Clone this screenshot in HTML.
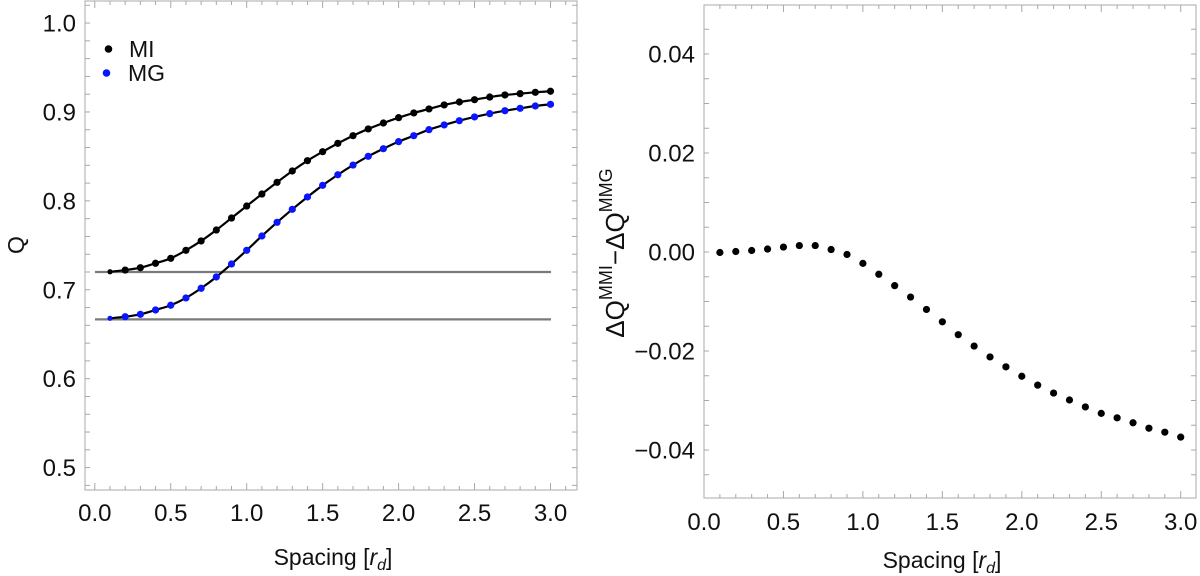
<!DOCTYPE html>
<html><head><meta charset="utf-8">
<style>
html,body{margin:0;padding:0;background:#fff;}
svg{display:block;font-family:"Liberation Sans",sans-serif;}
</style></head>
<body>
<svg id="chart" width="1200" height="576" viewBox="0 0 1200 576" xmlns="http://www.w3.org/2000/svg">
<g id="left"></g>
<g id="right"></g>
</svg>
<script>
const spacing = [0.1,0.2,0.3,0.4,0.5,0.6,0.7,0.8,0.9,1.0,1.1,1.2,1.3,1.4,1.5,1.6,1.7,1.8,1.9,2.0,2.1,2.2,2.3,2.4,2.5,2.6,2.7,2.8,2.9,3.0];
const miValues = [0.7203,0.7222,0.7248,0.7298,0.7354,0.7444,0.7549,0.7672,0.7807,0.7942,0.8077,0.8209,0.8336,0.8452,0.8553,0.8647,0.8733,0.8809,0.8876,0.8936,0.8989,0.9034,0.9079,0.9112,0.9138,0.9168,0.9191,0.9206,0.9221,0.9233];
const mgValues = [0.6679,0.6697,0.6724,0.6773,0.6826,0.6908,0.7017,0.7144,0.7290,0.7444,0.7605,0.7759,0.7905,0.8044,0.8175,0.8294,0.8403,0.8501,0.8587,0.8666,0.8733,0.8801,0.8854,0.8902,0.8944,0.8981,0.9014,0.9041,0.9067,0.9086];
const refLines = [0.72, 0.6667];
const diffValues = [-0.0001,0.0001,0.0003,0.0006,0.0010,0.0013,0.0013,0.0005,-0.0005,-0.0023,-0.0045,-0.0068,-0.0091,-0.0116,-0.0141,-0.0167,-0.0190,-0.0212,-0.0232,-0.0251,-0.0269,-0.0285,-0.0299,-0.0313,-0.0326,-0.0335,-0.0345,-0.0356,-0.0364,-0.0374];
const leftXTicks = ["0.0","0.5","1.0","1.5","2.0","2.5","3.0"];
const leftYTicks = ["0.5","0.6","0.7","0.8","0.9","1.0"];
const rightXTicks = ["0.0","0.5","1.0","1.5","2.0","2.5","3.0"];
const rightYTicks = ["-0.04","-0.02","0.00","0.02","0.04"];

const NS="http://www.w3.org/2000/svg";
function mk(parent,tag,attrs,text){const e=document.createElementNS(NS,tag);for(const k in attrs)e.setAttribute(k,attrs[k]);if(text!==undefined)e.textContent=text;parent.appendChild(e);return e;}
function lin(d0,d1,r0,r1){return v=>r0+(v-d0)*(r1-r0)/(d1-d0);}
function smoothPath(pts){let d="M"+pts[0][0]+","+pts[0][1];for(let i=0;i<pts.length-1;i++){const p0=pts[Math.max(i-1,0)],p1=pts[i],p2=pts[i+1],p3=pts[Math.min(i+2,pts.length-1)];d+=" C"+(p1[0]+(p2[0]-p0[0])/6)+","+(p1[1]+(p2[1]-p0[1])/6)+" "+(p2[0]-(p3[0]-p1[0])/6)+","+(p2[1]-(p3[1]-p1[1])/6)+" "+p2[0]+","+p2[1];}return d;}

function frame(g,x0,y0,x1,y1,xs,ys,xMinor,yMinor,xDom,yDom){
  const f=mk(g,"rect",{x:x0,y:y0,width:x1-x0,height:y1-y0,fill:"none",stroke:"#a8a8a8","stroke-width":1});
  
  
  for(let v=Math.ceil(xDom[0]/xMinor-1e-9)*xMinor; v<=xDom[1]+1e-9; v+=xMinor){
    const X=xs(v); const major=Math.abs(v*2-Math.round(v*2))<1e-6;
    const L=major?7:4;
    mk(g,"line",{x1:X,x2:X,y1:y1,y2:y1-L,stroke:"#a8a8a8"});
    mk(g,"line",{x1:X,x2:X,y1:y0,y2:y0+L,stroke:"#a8a8a8"});
  }
  for(let i=Math.ceil(yDom[0]/yMinor-1e-9); i*yMinor<=yDom[1]+1e-9; i++){
    const v=i*yMinor; const Y=ys(v);
    mk(g,"line",{x1:x0,x2:x0+5,y1:Y,y2:Y,stroke:"#a8a8a8"});
    mk(g,"line",{x1:x1,x2:x1-5,y1:Y,y2:Y,stroke:"#a8a8a8"});
  }
}

// LEFT PANEL
(function(){
  const g=document.getElementById("left");
  const x0=85,x1=577,y0=1,y1=490;
  const xs=lin(0,3,94.8,550.5);
  const ys=lin(0.72,0.5,272,467.6);
  frame(g,x0,y0,x1,y1,xs,ys,0.1,0.02,[-0.06,3.15],[0.48,1.02]);
  leftXTicks.forEach(t=>{const e=mk(g,"text",{x:xs(parseFloat(t)),y:521,"font-size":24,"text-anchor":"middle",fill:"#111"},t);
    
    });
  leftYTicks.forEach(t=>{const e=mk(g,"text",{x:76,y:ys(parseFloat(t))+8.5,"font-size":24,"text-anchor":"end",fill:"#111"},t);
    
    });
  refLines.forEach(v=>{const l=mk(g,"line",{x1:95,x2:551,y1:ys(v),y2:ys(v),stroke:"#7a7a7a","stroke-width":2.2});
    
    });
  [[miValues,"#000","mi"],[mgValues,"#0a14ff","mg"]].forEach(([vals,col,nm])=>{
    const pts=spacing.map((s,i)=>[xs(s),ys(vals[i])]);
    const p=mk(g,"path",{d:smoothPath(pts),fill:"none",stroke:"#000","stroke-width":2.2});
    
    
    pts.forEach((q,i)=>{const c=mk(g,"circle",{cx:q[0],cy:q[1],r:i===0?2.6:3.6,fill:col});
      
      });
  });
  const lg=mk(g,"g",{});
  
  
  const l1=mk(lg,"circle",{cx:108.5,cy:49,r:3.8,fill:"#000"});
  
  
  const t1=mk(lg,"text",{x:129,y:57,"font-size":23,fill:"#111"},"MI");
  
  
  const l2=mk(lg,"circle",{cx:106.5,cy:73,r:3.8,fill:"#0a14ff"});
  
  
  const t2=mk(lg,"text",{x:128,y:81,"font-size":23,fill:"#111"},"MG");
  
  
  const yt=mk(g,"text",{x:0,y:0,"font-size":23,"text-anchor":"middle",transform:"translate(24,245) rotate(-90)",fill:"#111"},"Q");
  
  
  const xt=mk(g,"text",{x:333,y:565,"font-size":23,"text-anchor":"middle",fill:"#111"});
  
  
  mk(xt,"tspan",{},"Spacing [");
  mk(xt,"tspan",{"font-style":"italic"},"r");
  mk(xt,"tspan",{"font-style":"italic","font-size":16,dy:5},"d");
  mk(xt,"tspan",{dy:-5},"]");
})();

// RIGHT PANEL
(function(){
  const g=document.getElementById("right");
  const x0=704,x1=1196,y0=5,y1=498;
  const xs=lin(0,3,704,1180.7);
  const ys=lin(0,0.02,252,153);
  frame(g,x0,y0,x1,y1,xs,ys,0.1,0.005,[0,3.09],[-0.049,0.049]);
  rightXTicks.forEach(t=>{const e=mk(g,"text",{x:xs(parseFloat(t)),y:530,"font-size":24,"text-anchor":"middle",fill:"#111"},t);
    
    });
  rightYTicks.forEach(t=>{const e=mk(g,"text",{x:695,y:ys(parseFloat(t))+8.5,"font-size":24,"text-anchor":"end",fill:"#111"},t.replace("-","\u2212"));
    
    });
  spacing.forEach((s,i)=>{const c=mk(g,"circle",{cx:xs(s),cy:ys(diffValues[i]),r:3.6,fill:"#000"});
    
    });
  const yt=mk(g,"text",{x:0,y:0,"font-size":26,"text-anchor":"middle",transform:"translate(624,253) rotate(-90)",fill:"#111"});
  
  
  mk(yt,"tspan",{},"\u0394Q");
  mk(yt,"tspan",{"font-size":18,dy:-12},"MMI");
  mk(yt,"tspan",{dy:12},"\u2212\u0394Q");
  mk(yt,"tspan",{"font-size":18,dy:-12},"MMG");
  const xt=mk(g,"text",{x:942,y:568,"font-size":23,"text-anchor":"middle",fill:"#111"});
  
  
  mk(xt,"tspan",{},"Spacing [");
  mk(xt,"tspan",{"font-style":"italic"},"r");
  mk(xt,"tspan",{"font-style":"italic","font-size":16,dy:5},"d");
  mk(xt,"tspan",{dy:-5},"]");
})();
</script>
</body></html>
